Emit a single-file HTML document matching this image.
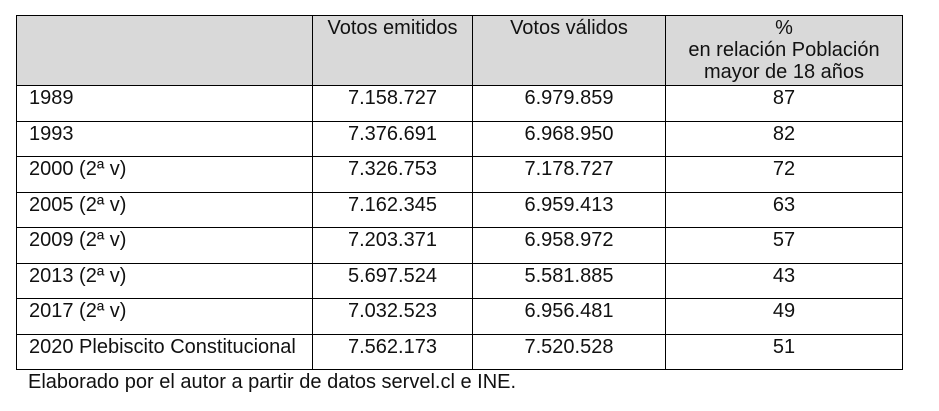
<!DOCTYPE html>
<html><head><meta charset="utf-8"><style>
body{margin:0;background:#fff;width:939px;height:411px;overflow:hidden;font-family:"Liberation Sans",Arial,sans-serif;color:#111}
table{position:absolute;left:16px;top:15px;border-collapse:collapse;font-size:20px;table-layout:fixed}
td{border:1.5px solid #000;padding:1px 6px 0 12px;vertical-align:top;height:35.5px;box-sizing:border-box;line-height:22px;white-space:nowrap}
td.n{text-align:center;padding-left:6px}
tr.h td{background:#d9d9d9;height:70px;text-align:center;line-height:22px;padding-top:1px;padding-left:6px}
.note{position:absolute;left:28px;top:371px;font-size:20px}
</style></head><body>
<table>
<colgroup><col style="width:296px"><col style="width:160px"><col style="width:193px"><col style="width:237px"></colgroup>
<tr class="h"><td></td><td>Votos emitidos</td><td>Votos válidos</td><td>%<br>en relación Población<br>mayor de 18 años</td></tr>
<tr><td>1989</td><td class="n">7.158.727</td><td class="n">6.979.859</td><td class="n">87</td></tr>
<tr><td>1993</td><td class="n">7.376.691</td><td class="n">6.968.950</td><td class="n">82</td></tr>
<tr><td>2000 (2ª v)</td><td class="n">7.326.753</td><td class="n">7.178.727</td><td class="n">72</td></tr>
<tr><td>2005 (2ª v)</td><td class="n">7.162.345</td><td class="n">6.959.413</td><td class="n">63</td></tr>
<tr><td>2009 (2ª v)</td><td class="n">7.203.371</td><td class="n">6.958.972</td><td class="n">57</td></tr>
<tr><td>2013 (2ª v)</td><td class="n">5.697.524</td><td class="n">5.581.885</td><td class="n">43</td></tr>
<tr><td>2017 (2ª v)</td><td class="n">7.032.523</td><td class="n">6.956.481</td><td class="n">49</td></tr>
<tr><td>2020 Plebiscito Constitucional</td><td class="n">7.562.173</td><td class="n">7.520.528</td><td class="n">51</td></tr>
</table>
<div class="note">Elaborado por el autor a partir de datos servel.cl e INE.</div>
</body></html>
